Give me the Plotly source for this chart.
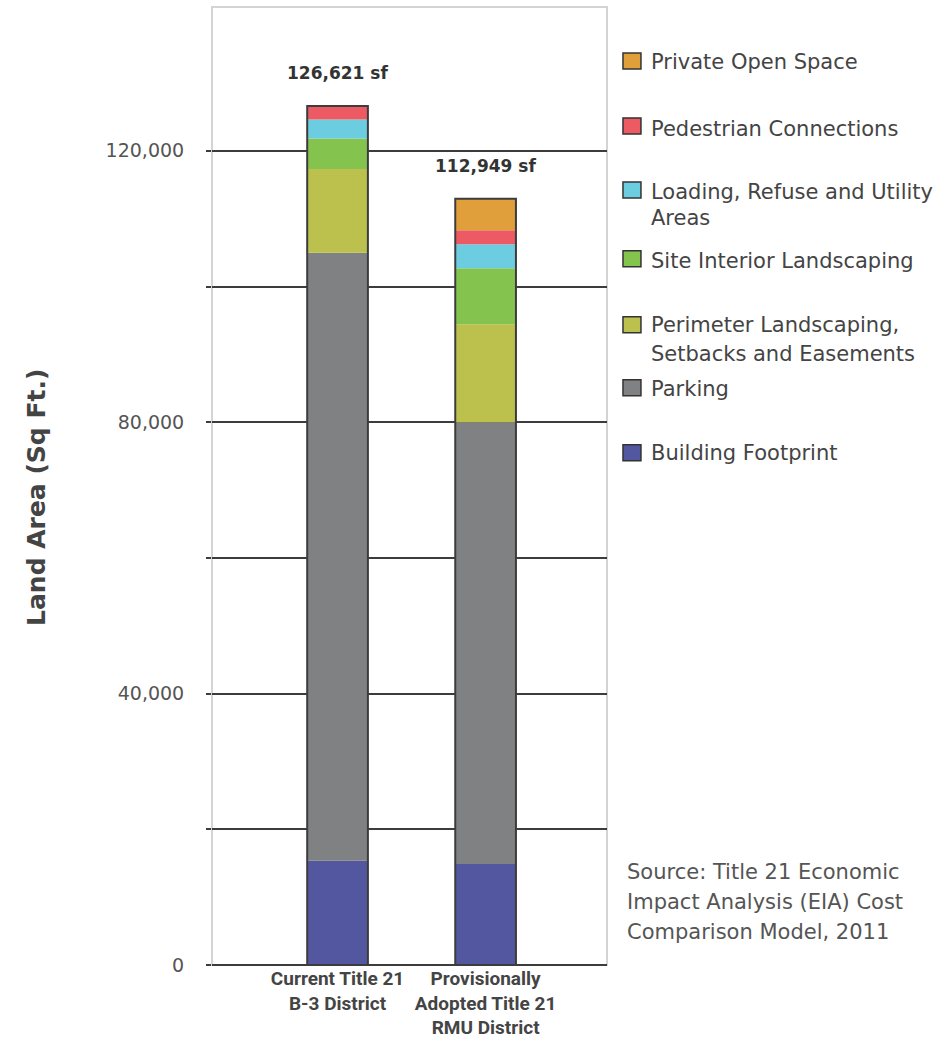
import plotly.graph_objects as go

# Land area by use (sq ft) for each zoning scenario
categories = ["Current Title 21<br>B-3 District",
              "Provisionally<br>Adopted Title 21<br>RMU District"]
building_footprint = [15350, 14900]
parking = [89630, 65100]
perimeter_landscaping = [12330, 14430]
site_interior = [4520, 8250]
loading_refuse = [2800, 3540]
pedestrian = [1991, 2060]
private_open_space = [0, 4669]
total_labels = ["126,621 sf", "112,949 sf"]

series = [
    ("Building Footprint", building_footprint, "#5357a0"),
    ("Parking", parking, "#808182"),
    ("Perimeter Landscaping, Setbacks and Easements", perimeter_landscaping, "#bcc04d"),
    ("Site Interior Landscaping", site_interior, "#84c44e"),
    ("Loading, Refuse and Utility Areas", loading_refuse, "#6ccde0"),
    ("Pedestrian Connections", pedestrian, "#ec5a63"),
    ("Private Open Space", private_open_space, "#e09f3a"),
]

y_ticks = [0, 20000, 40000, 60000, 80000, 100000, 120000]
y_tick_text = ["0", "", "40,000", "", "80,000", "", "120,000"]

# plot-area geometry (pixels) used to place legend/side text in paper coords
W, H = 947, 1046
L, R, T, B = 212, 947 - 607.5, 7, 1046 - 965.5
PW, PH = W - L - R, H - T - B


def px(x):
    return (x - L) / PW


def py(y):
    return (H - B - y) / PH


xs = list(range(len(categories)))
bar_w = 0.41
fig = go.Figure()

base = [0] * len(categories)
for name, vals, color in series:
    fig.add_trace(go.Bar(
        x=xs, y=vals, base=list(base), name=name, width=bar_w,
        marker=dict(color=color, line=dict(width=0)),
        showlegend=False,
    ))
    base = [b + v for b, v in zip(base, vals)]
totals = base

# outline around each full stack
fig.add_trace(go.Bar(
    x=xs, y=totals, base=[0] * len(xs), width=bar_w,
    marker=dict(color="rgba(0,0,0,0)", line=dict(color="#3c3c3c", width=2)),
    showlegend=False, hoverinfo="skip",
))

# total labels above the bars
for xi, tot, lab in zip(xs, totals, total_labels):
    fig.add_annotation(x=xi, y=tot, text="<b>" + lab + "</b>", showarrow=False,
                       yanchor="bottom", yshift=21,
                       font=dict(family="DejaVu Sans", size=17, color="#333333"))

# light frame around the plotting area
fig.add_shape(type="rect", xref="paper", yref="paper", x0=0, x1=1, y0=0, y1=1,
              line=dict(color="#d4d4d4", width=2), layer="below")

# y-axis title
fig.add_annotation(xref="paper", yref="paper", x=px(37), y=py(498),
                   text="<b>Land Area (Sq Ft.)</b>", textangle=-90, showarrow=False,
                   xanchor="center", yanchor="middle",
                   font=dict(family="DejaVu Sans", size=25, color="#444444"))

# legend (manually laid out)
legend_items = [
    ("Private Open Space", "#e09f3a", 61, [62]),
    ("Pedestrian Connections", "#ec5a63", 126, [129]),
    ("Loading, Refuse and Utility|Areas", "#6ccde0", 190, [192, 218]),
    ("Site Interior Landscaping", "#84c44e", 259, [261]),
    ("Perimeter Landscaping,|Setbacks and Easements", "#bcc04d", 325, [325, 354]),
    ("Parking", "#808182", 388, [389]),
    ("Building Footprint", "#5357a0", 453, [453]),
]
for text, color, sy, line_ys in legend_items:
    fig.add_shape(type="rect", xref="paper", yref="paper",
                  x0=px(623.5), x1=px(641.5), y0=py(sy + 8), y1=py(sy - 8),
                  fillcolor=color, line=dict(color="#333333", width=1.5))
    for line, ly in zip(text.split("|"), line_ys):
        fig.add_annotation(xref="paper", yref="paper", x=px(650), y=py(ly),
                           text=line, showarrow=False, xanchor="left", yanchor="middle",
                           font=dict(family="DejaVu Sans", size=21, color="#444444"))

# source note
for line, ly in zip(["Source: Title 21 Economic",
                     "Impact Analysis (EIA) Cost",
                     "Comparison Model, 2011"], [872, 902, 932]):
    fig.add_annotation(xref="paper", yref="paper", x=px(626), y=py(ly),
                       text=line, showarrow=False, xanchor="left", yanchor="middle",
                       font=dict(family="DejaVu Sans", size=21, color="#555555"))

fig.update_layout(
    width=W, height=H,
    margin=dict(l=L, r=R, t=T, b=B, pad=0),
    barmode="overlay",
    plot_bgcolor="white", paper_bgcolor="white",
    showlegend=False,
    xaxis=dict(range=[-0.848, 1.82], tickvals=xs, ticktext=categories,
               showgrid=False, zeroline=False, showline=False, ticks="",
               tickfont=dict(family="Roboto", size=19, color="#444444", weight="bold"),
               fixedrange=True),
    yaxis=dict(range=[0, 141200], tickvals=y_ticks, ticktext=y_tick_text,
               showgrid=True, gridcolor="#3c3c3c", gridwidth=1.5,
               zeroline=True, zerolinecolor="#3c3c3c", zerolinewidth=2,
               showline=False, ticks="outside", ticklen=5, tickcolor="#3c3c3c",
               tickwidth=1.5, ticklabelstandoff=18,
               tickfont=dict(family="DejaVu Sans", size=19, color="#555555"),
               fixedrange=True),
)

fig.write_html("out.html")
